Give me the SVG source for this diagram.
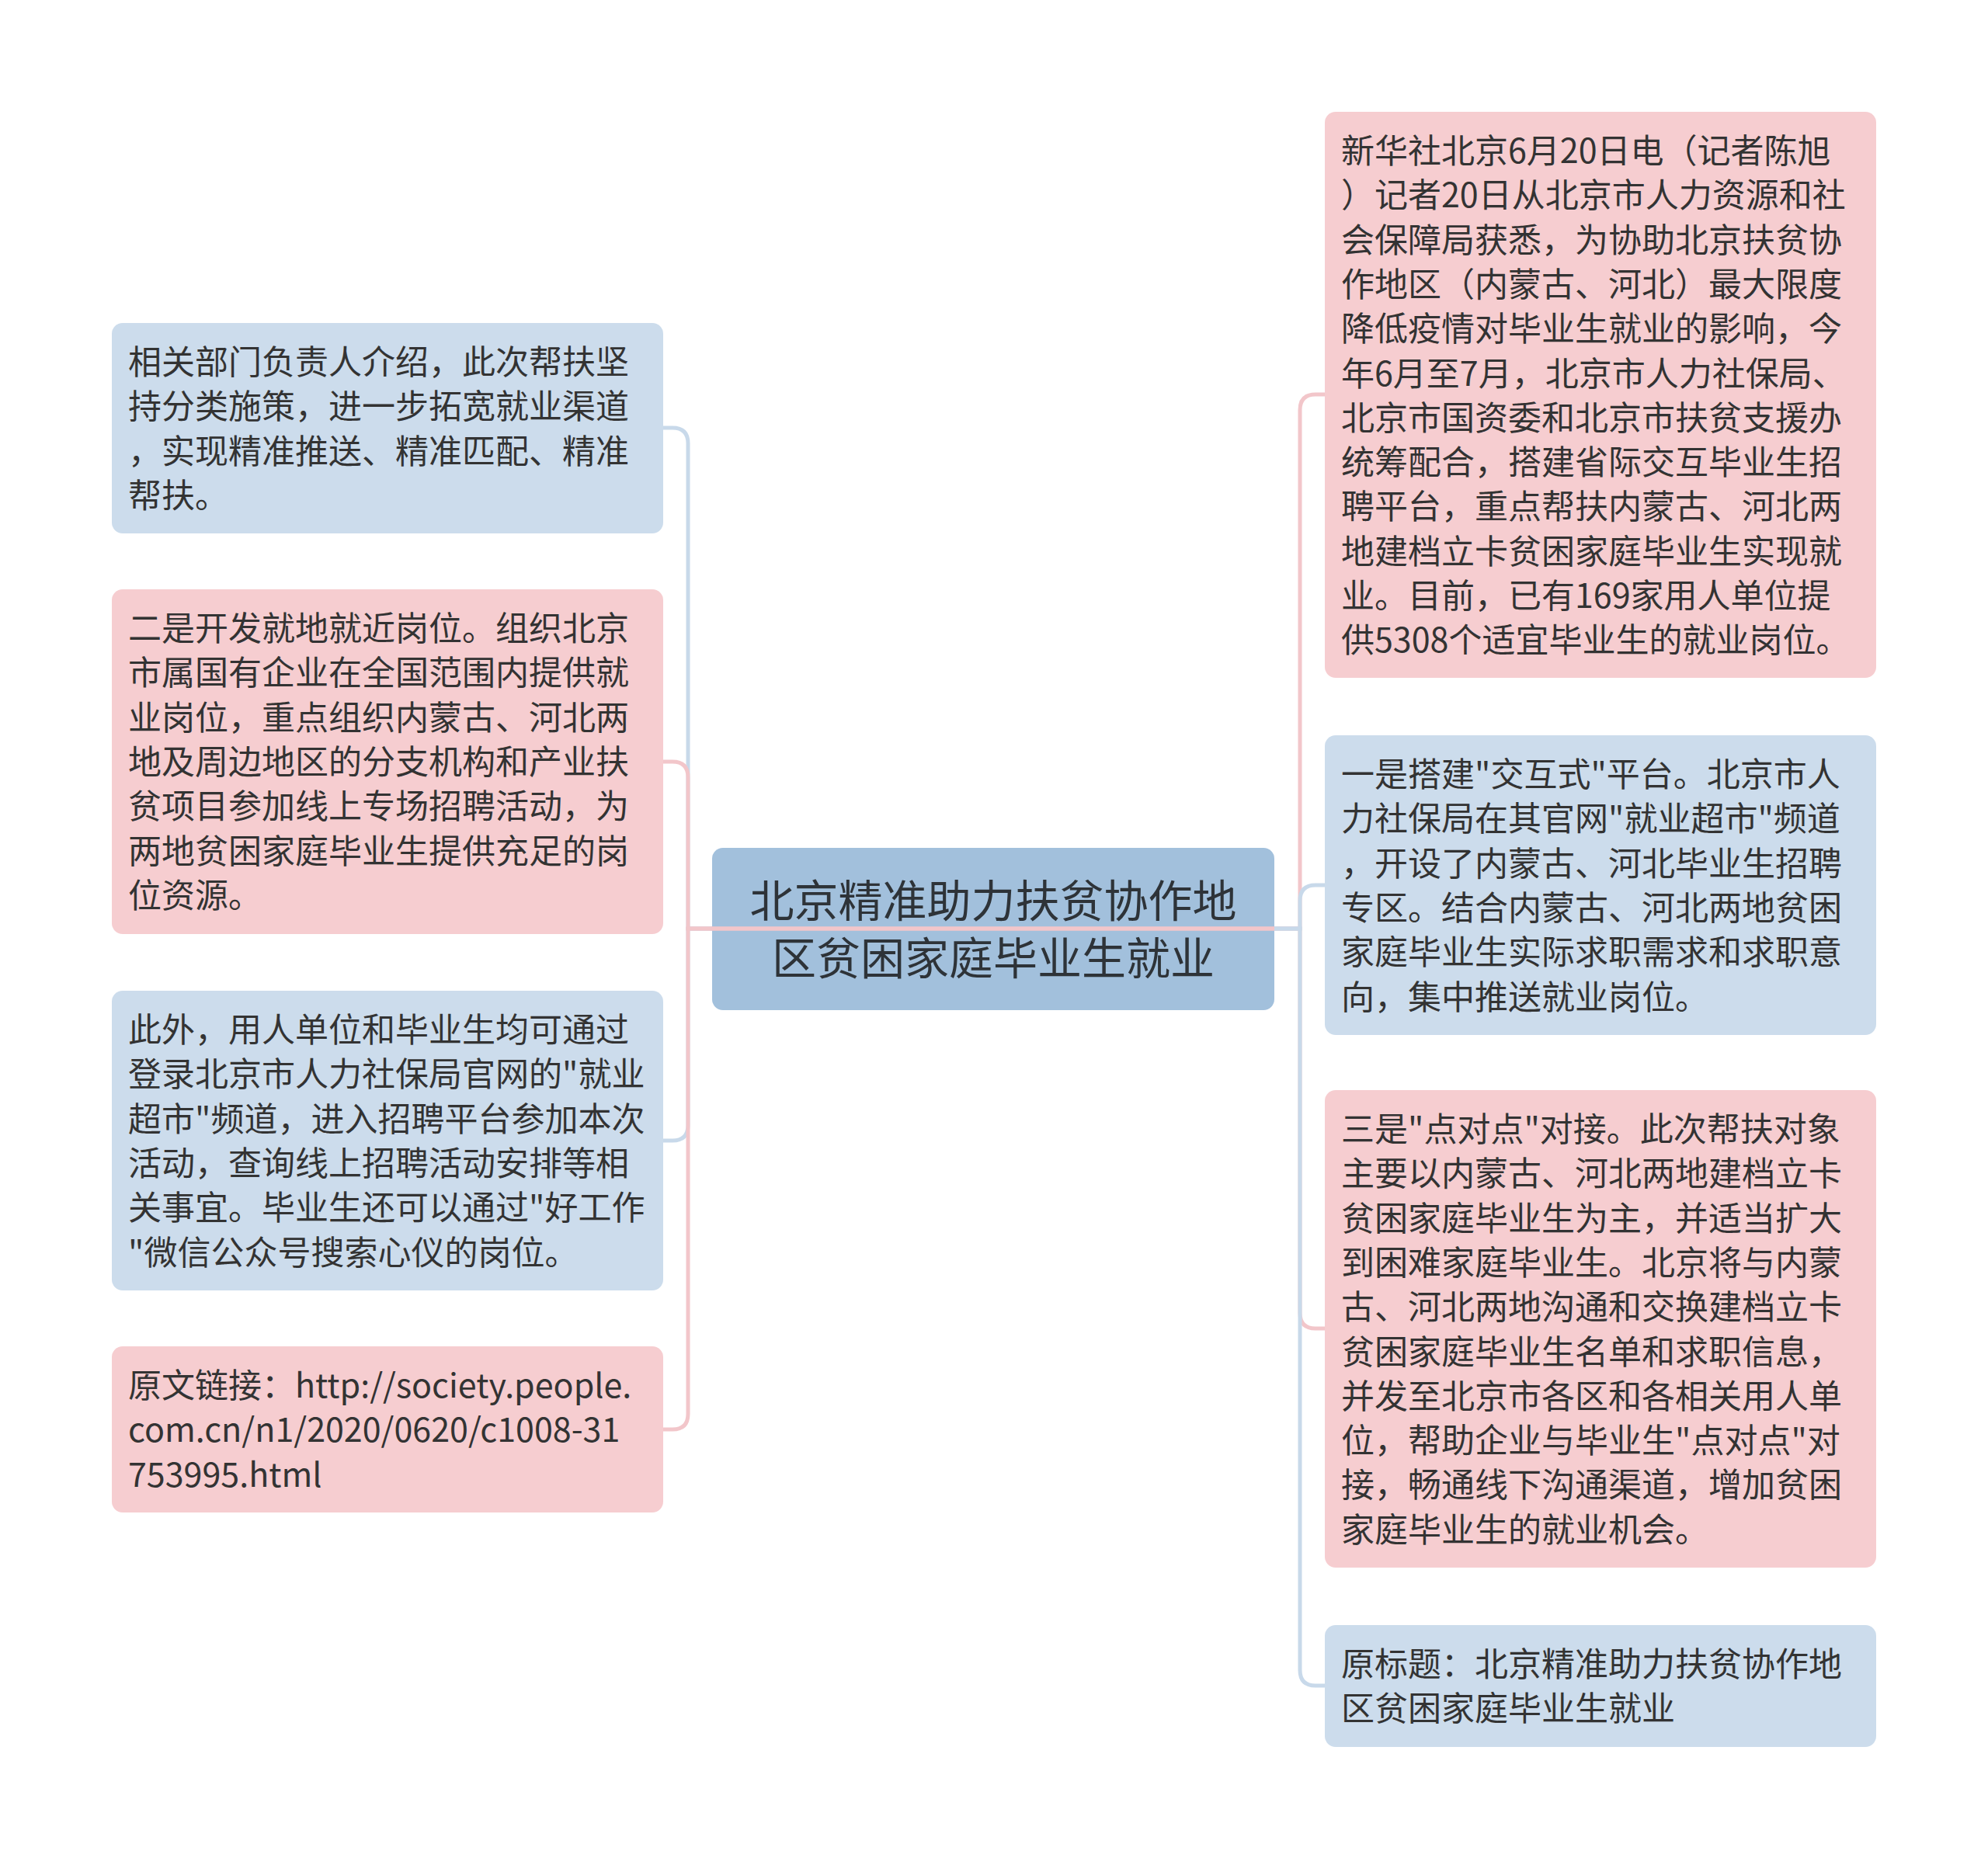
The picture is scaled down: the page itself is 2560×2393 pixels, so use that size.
<svg xmlns="http://www.w3.org/2000/svg" width="2560" height="2393" viewBox="0 0 2560 2393">
<style>
.pink{fill:#f6cdd0;}
.blue{fill:#ccdcec;}
.root{fill:#a2c0dc;}
.t{font-family:"Noto Sans CJK SC","Noto Sans",sans-serif;font-size:43px;fill:#333333;}
.tc{font-family:"Noto Sans CJK SC","Noto Sans",sans-serif;font-size:57px;fill:#2e3338;text-anchor:middle;}
.cp{fill:none;stroke:#f2c6ca;stroke-width:5;}
.cb{fill:none;stroke:#c8d9ea;stroke-width:5;}
</style>
<rect width="2560" height="2393" fill="#ffffff"/>
<g id="root">
<rect class="root" x="917" y="1092" width="724" height="209" rx="14"/>
<text class="tc"><tspan x="1279" y="1181">北京精准助力扶贫协作地</tspan><tspan x="1279" y="1255">区贫困家庭毕业生就业</tspan></text>
</g>
<g id="L1">
<rect class="blue" x="144" y="416" width="710" height="271" rx="14"/>
<text class="t"><tspan x="165" y="482">相关部门负责人介绍，此次帮扶坚</tspan><tspan x="165" y="539">持分类施策，进一步拓宽就业渠道</tspan><tspan x="165" y="597">，实现精准推送、精准匹配、精准</tspan><tspan x="165" y="654">帮扶。</tspan></text>
</g>
<g id="L2">
<rect class="pink" x="144" y="759" width="710" height="444" rx="14"/>
<text class="t"><tspan x="165" y="825">二是开发就地就近岗位。组织北京</tspan><tspan x="165" y="882">市属国有企业在全国范围内提供就</tspan><tspan x="165" y="940">业岗位，重点组织内蒙古、河北两</tspan><tspan x="165" y="997">地及周边地区的分支机构和产业扶</tspan><tspan x="165" y="1054">贫项目参加线上专场招聘活动，为</tspan><tspan x="165" y="1112">两地贫困家庭毕业生提供充足的岗</tspan><tspan x="165" y="1169">位资源。</tspan></text>
</g>
<g id="L3">
<rect class="blue" x="144" y="1276" width="710" height="386" rx="14"/>
<text class="t"><tspan x="165" y="1342">此外，用人单位和毕业生均可通过</tspan><tspan x="165" y="1399">登录北京市人力社保局官网的"就业</tspan><tspan x="165" y="1457">超市"频道，进入招聘平台参加本次</tspan><tspan x="165" y="1514">活动，查询线上招聘活动安排等相</tspan><tspan x="165" y="1571">关事宜。毕业生还可以通过"好工作</tspan><tspan x="165" y="1629">"微信公众号搜索心仪的岗位。</tspan></text>
</g>
<g id="L4">
<rect class="pink" x="144" y="1734" width="710" height="214" rx="14"/>
<text class="t"><tspan x="165" y="1800">原文链接：http://society.people.</tspan><tspan x="165" y="1857">com.cn/n1/2020/0620/c1008-31</tspan><tspan x="165" y="1915">753995.html</tspan></text>
</g>
<g id="R1">
<rect class="pink" x="1706" y="144" width="710" height="729" rx="14"/>
<text class="t"><tspan x="1727" y="210">新华社北京6月20日电（记者陈旭</tspan><tspan x="1727" y="267">）记者20日从北京市人力资源和社</tspan><tspan x="1727" y="325">会保障局获悉，为协助北京扶贫协</tspan><tspan x="1727" y="382">作地区（内蒙古、河北）最大限度</tspan><tspan x="1727" y="439">降低疫情对毕业生就业的影响，今</tspan><tspan x="1727" y="497">年6月至7月，北京市人力社保局、</tspan><tspan x="1727" y="554">北京市国资委和北京市扶贫支援办</tspan><tspan x="1727" y="611">统筹配合，搭建省际交互毕业生招</tspan><tspan x="1727" y="668">聘平台，重点帮扶内蒙古、河北两</tspan><tspan x="1727" y="726">地建档立卡贫困家庭毕业生实现就</tspan><tspan x="1727" y="783">业。目前，已有169家用人单位提</tspan><tspan x="1727" y="840">供5308个适宜毕业生的就业岗位。</tspan></text>
</g>
<g id="R2">
<rect class="blue" x="1706" y="947" width="710" height="386" rx="14"/>
<text class="t"><tspan x="1727" y="1013">一是搭建"交互式"平台。北京市人</tspan><tspan x="1727" y="1070">力社保局在其官网"就业超市"频道</tspan><tspan x="1727" y="1128">，开设了内蒙古、河北毕业生招聘</tspan><tspan x="1727" y="1185">专区。结合内蒙古、河北两地贫困</tspan><tspan x="1727" y="1242">家庭毕业生实际求职需求和求职意</tspan><tspan x="1727" y="1300">向，集中推送就业岗位。</tspan></text>
</g>
<g id="R3">
<rect class="pink" x="1706" y="1404" width="710" height="615" rx="14"/>
<text class="t"><tspan x="1727" y="1470">三是"点对点"对接。此次帮扶对象</tspan><tspan x="1727" y="1527">主要以内蒙古、河北两地建档立卡</tspan><tspan x="1727" y="1585">贫困家庭毕业生为主，并适当扩大</tspan><tspan x="1727" y="1642">到困难家庭毕业生。北京将与内蒙</tspan><tspan x="1727" y="1699">古、河北两地沟通和交换建档立卡</tspan><tspan x="1727" y="1757">贫困家庭毕业生名单和求职信息，</tspan><tspan x="1727" y="1814">并发至北京市各区和各相关用人单</tspan><tspan x="1727" y="1871">位，帮助企业与毕业生"点对点"对</tspan><tspan x="1727" y="1928">接，畅通线下沟通渠道，增加贫困</tspan><tspan x="1727" y="1986">家庭毕业生的就业机会。</tspan></text>
</g>
<g id="R4">
<rect class="blue" x="1706" y="2093" width="710" height="157" rx="14"/>
<text class="t"><tspan x="1727" y="2159">原标题：北京精准助力扶贫协作地</tspan><tspan x="1727" y="2216">区贫困家庭毕业生就业</tspan></text>
</g>
<g id="connectors">
<path class="cp" d="M1641 1196 H1674 V528 Q1674 508 1694 508 H1706"/>
<path class="cp" d="M1641 1196 H1674 V1691 Q1674 1711 1694 1711 H1706"/>
<path class="cb" d="M1641 1196 H1674 V1160 Q1674 1140 1694 1140 H1706"/>
<path class="cb" d="M1641 1196 H1674 V2151 Q1674 2171 1694 2171 H1706"/>
<path class="cb" d="M917 1196 H886 V571 Q886 551 866 551 H854"/>
<path class="cb" d="M917 1196 H886 V1449 Q886 1469 866 1469 H854"/>
<path class="cp" d="M1641 1196 H886 V1001 Q886 981 866 981 H854"/>
<path class="cp" d="M1641 1196 H886 V1821 Q886 1841 866 1841 H854"/>
</g>
</svg>
